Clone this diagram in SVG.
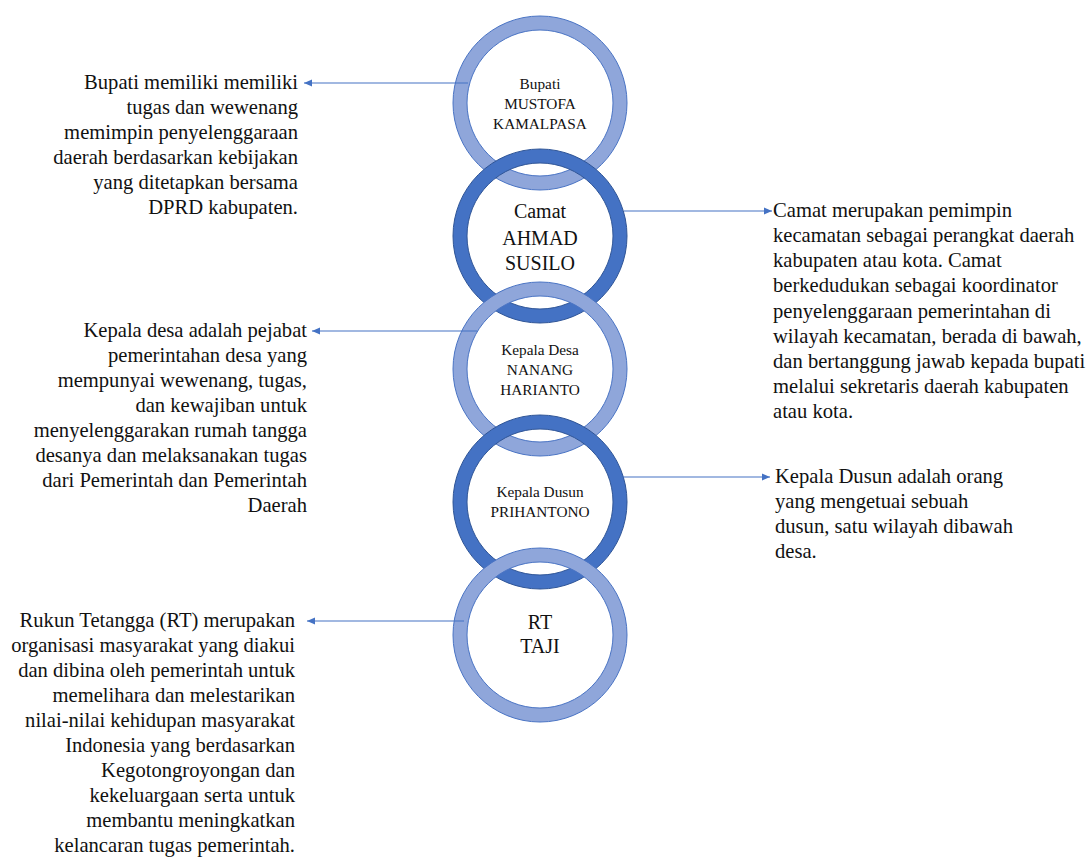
<svg xmlns="http://www.w3.org/2000/svg" xmlns:xlink="http://www.w3.org/1999/xlink" width="1089" height="862" viewBox="0 0 1089 862">
<style>
.light{fill:#8FA6DA;stroke:#4A74C4;stroke-width:1}
.dark{fill:#4472C4;stroke:#2F5597;stroke-width:1}
text{font-family:"Liberation Serif",serif;fill:#111}
.ct{text-anchor:middle}
.s15{font-size:15.3px}
.s20{font-size:20px}
.desc text{font-size:20.6px}
.r text{text-anchor:end}
.l text{text-anchor:start}
.conn{stroke:#4472C4;stroke-width:1.2;fill:none;marker-end:url(#ah)}
</style>
<defs>
<path id="donut" fill-rule="evenodd" d="M-87,0A87,87 0 1,0 87,0A87,87 0 1,0 -87,0ZM-73,0A73,73 0 1,0 73,0A73,73 0 1,0 -73,0Z"/>
<marker id="ah" markerUnits="userSpaceOnUse" markerWidth="10" markerHeight="8" refX="8" refY="4" orient="auto">
<path d="M0,0.5L8,4L0,7.5Z" fill="#4472C4"/>
</marker>
</defs>
<rect width="1089" height="862" fill="#fff"/>
<g id="node-bupati">
<use xlink:href="#donut" href="#donut" x="540" y="103" class="light"/>
<text class="ct s15" x="540" y="89">Bupati</text>
<text class="ct s15" x="540" y="109">MUSTOFA</text>
<text class="ct s15" x="540" y="129">KAMALPASA</text>
</g>
<g id="node-camat">
<use xlink:href="#donut" href="#donut" x="540" y="236" class="dark"/>
<text class="ct s20" x="540" y="218">Camat</text>
<text class="ct s20" x="540" y="245">AHMAD</text>
<text class="ct s20" x="540" y="270">SUSILO</text>
</g>
<g id="node-kades">
<use xlink:href="#donut" href="#donut" x="540" y="369" class="light"/>
<text class="ct s15" x="540" y="355">Kepala Desa</text>
<text class="ct s15" x="540" y="375">NANANG</text>
<text class="ct s15" x="540" y="395">HARIANTO</text>
</g>
<g id="node-kadus">
<use xlink:href="#donut" href="#donut" x="540" y="502" class="dark"/>
<text class="ct s15" x="540" y="497">Kepala Dusun</text>
<text class="ct s15" x="540" y="517">PRIHANTONO</text>
</g>
<g id="node-rt">
<use xlink:href="#donut" href="#donut" x="540" y="635" class="light"/>
<text class="ct s20" x="540" y="629">RT</text>
<text class="ct s20" x="540" y="653">TAJI</text>
</g>
<g id="desc-bupati" class="desc r">
<text x="298" y="89">Bupati memiliki memiliki</text>
<text x="298" y="114">tugas dan wewenang</text>
<text x="298" y="139">memimpin penyelenggaraan</text>
<text x="298" y="164">daerah berdasarkan kebijakan</text>
<text x="298" y="189">yang ditetapkan bersama</text>
<text x="298" y="214">DPRD kabupaten.</text>
</g>
<g id="desc-camat" class="desc l">
<text x="773" y="217">Camat merupakan pemimpin</text>
<text x="773" y="242">kecamatan sebagai perangkat daerah</text>
<text x="773" y="267">kabupaten atau kota. Camat</text>
<text x="773" y="292">berkedudukan sebagai koordinator</text>
<text x="773" y="318">penyelenggaraan pemerintahan di</text>
<text x="773" y="343">wilayah kecamatan, berada di bawah,</text>
<text x="773" y="368">dan bertanggung jawab kepada bupati</text>
<text x="773" y="393">melalui sekretaris daerah kabupaten</text>
<text x="773" y="418">atau kota.</text>
</g>
<g id="desc-kades" class="desc r">
<text x="307" y="337">Kepala desa adalah pejabat</text>
<text x="307" y="362">pemerintahan desa yang</text>
<text x="307" y="387">mempunyai wewenang, tugas,</text>
<text x="307" y="412">dan kewajiban untuk</text>
<text x="307" y="437">menyelenggarakan rumah tangga</text>
<text x="307" y="462">desanya dan melaksanakan tugas</text>
<text x="307" y="487">dari Pemerintah dan Pemerintah</text>
<text x="307" y="512">Daerah</text>
</g>
<g id="desc-kadus" class="desc l">
<text x="775" y="483">Kepala Dusun adalah orang</text>
<text x="775" y="508">yang mengetuai sebuah</text>
<text x="775" y="533">dusun, satu wilayah dibawah</text>
<text x="775" y="558">desa.</text>
</g>
<g id="desc-rt" class="desc r">
<text x="295" y="627">Rukun Tetangga (RT) merupakan</text>
<text x="295" y="652">organisasi masyarakat yang diakui</text>
<text x="295" y="677">dan dibina oleh pemerintah untuk</text>
<text x="295" y="702">memelihara dan melestarikan</text>
<text x="295" y="727">nilai-nilai kehidupan masyarakat</text>
<text x="295" y="752">Indonesia yang berdasarkan</text>
<text x="295" y="777">Kegotongroyongan dan</text>
<text x="295" y="802">kekeluargaan serta untuk</text>
<text x="295" y="827">membantu meningkatkan</text>
<text x="295" y="852">kelancaran tugas pemerintah.</text>
</g>
<g id="connectors">
<line class="conn" x1="468" y1="83" x2="304" y2="83"/>
<line class="conn" x1="624" y1="211" x2="772" y2="211"/>
<line class="conn" x1="477" y1="331" x2="312" y2="331"/>
<line class="conn" x1="623" y1="477" x2="770" y2="477"/>
<line class="conn" x1="464" y1="621" x2="307" y2="621"/>
</g>
</svg>
